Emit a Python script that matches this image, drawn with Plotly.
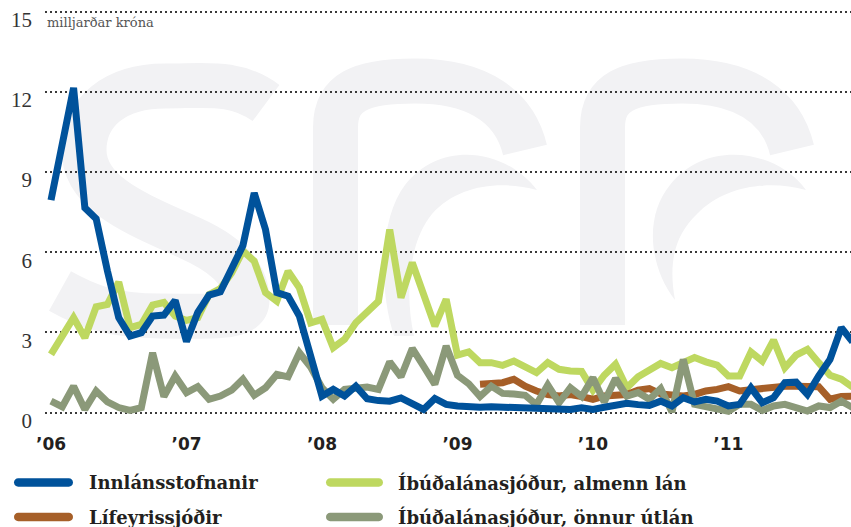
import plotly.graph_objects as go

# ---- data: monthly values, Jan 2006 (index 0) to Dec 2011 (index 71), billion ISK ----
month_index = list(range(72))
year_ticks = [0, 12, 24, 36, 48, 60]
year_labels = ["’06", "’07", "’08", "’09", "’10", "’11"]
value_ticks = [0, 3, 6, 9, 12, 15]
unit_label = "milljarðar króna"

innlansstofnanir = [
    7.95, 10.05, 12.15, 7.66, 7.25, 5.3, 3.55, 2.86, 2.99, 3.61, 3.65, 4.2,
    2.66, 3.75, 4.4, 4.52, 5.45, 6.25, 8.22, 6.85, 4.49, 4.36, 3.61, 2.2,
    0.62, 0.87, 0.62, 0.99, 0.52, 0.45, 0.43, 0.55, 0.3, 0.12, 0.53, 0.31,
    0.25, 0.2, 0.2, 0.22, 0.2, 0.22, 0.15, 0.12, 0.1, 0.1, 0.12, 0.18,
    0.12, 0.2, 0.25, 0.35, 0.3, 0.27, 0.43, 0.25, 0.56, 0.4, 0.5, 0.43,
    0.25, 0.31, 0.93, 0.37, 0.56, 1.12, 1.14, 0.68, 1.37, 1.99, 3.18, 2.65,
]
lifeyrissjodir = [None] * 38 + [
    1.06, 1.06, 1.12, 1.25, 0.99, 0.81, 0.68, 0.62, 0.68, 0.6,
    0.5, 0.62, 0.68, 0.68, 0.84, 0.9, 0.7, 0.68, 0.62, 0.68, 0.81, 0.87,
    0.97, 0.81, 0.87, 0.93, 0.97, 0.99, 0.99, 0.99, 0.97, 0.5, 0.6, 0.62,
]
ils_almenn = [
    2.18, 2.87, 3.55, 2.8, 3.96, 4.05, 4.88, 3.18, 3.3, 4.02, 4.12, 3.61,
    3.45, 3.55, 4.42, 4.64, 5.23, 6.05, 5.67, 4.49, 4.17, 5.29, 4.67, 3.36,
    3.49, 2.43, 2.74, 3.36, 3.74, 4.17, 6.85, 4.3, 5.61, 4.36, 3.24, 4.24,
    2.15, 2.27, 1.87, 1.87, 1.77, 1.93, 1.74, 1.5, 1.87, 1.62, 1.56, 1.54,
    0.84, 1.4, 1.81, 0.93, 1.34, 1.6, 1.84, 1.68, 1.87, 2.06, 1.9, 1.78,
    1.37, 1.37, 2.27, 1.93, 2.71, 1.68, 2.15, 2.37, 1.87, 1.4, 1.25, 0.95,
]
ils_onnur = [
    0.43, 0.22, 0.99, 0.12, 0.81, 0.4, 0.19, 0.08, 0.19, 2.24, 0.6, 1.37,
    0.75, 0.97, 0.5, 0.62, 0.84, 1.25, 0.65, 0.93, 1.43, 1.34, 2.24, 1.7,
    0.93, 0.5, 0.87, 0.93, 0.96, 0.87, 1.9, 1.34, 2.4, 1.74, 1.06, 2.49,
    1.4, 1.08, 0.6, 0.99, 0.72, 0.7, 0.65, 0.3, 1.03, 0.37, 0.93, 0.6,
    1.31, 0.4, 1.28, 0.62, 0.75, 0.5, 0.9, 0.02, 1.99, 0.31, 0.22, 0.19,
    0.05, 0.31, 0.31, 0.08, 0.25, 0.31, 0.19, 0.06, 0.25, 0.19, 0.43, 0.19,
]

series_names = [
    "Innlánsstofnanir",
    "Lífeyrissjóðir",
    "Íbúðalánasjóður, almenn lán",
    "Íbúðalánasjóður, önnur útlán",
]
series_values = [innlansstofnanir, lifeyrissjodir, ils_almenn, ils_onnur]
series_colors = ["#00529b", "#a65f28", "#bed860", "#8b9979"]
draw_order = [2, 1, 3, 0]  # lightest underneath, deposit institutions on top

# ---- layout geometry (pixels) ----
FIG_W, FIG_H = 851, 527
M_L, M_R, M_T, M_B = 45, 0, 5, 101
PLOT_W = FIG_W - M_L - M_R
PLOT_H = FIG_H - M_T - M_B
PLOT_BOTTOM = FIG_H - M_B


def to_paper(px, py):
    return (px - M_L) / PLOT_W, (PLOT_BOTTOM - py) / PLOT_H


def path_from_pixels(segments):
    parts = []
    for cmd, pts in segments:
        coords = []
        for px, py in pts:
            x, y = to_paper(px, py)
            coords.append(f"{x:.5f},{y:.5f}")
        parts.append(cmd + " " + " ".join(coords))
    return " ".join(parts)


def stadium(x0, x1, yc, r):
    k = 0.5523 * r
    return path_from_pixels([
        ("M", [(x0 + r, yc - r)]),
        ("L", [(x1 - r, yc - r)]),
        ("C", [(x1 - r + k, yc - r), (x1, yc - k), (x1, yc)]),
        ("C", [(x1, yc + k), (x1 - r + k, yc + r), (x1 - r, yc + r)]),
        ("L", [(x0 + r, yc + r)]),
        ("C", [(x0 + r - k, yc + r), (x0, yc + k), (x0, yc)]),
        ("C", [(x0, yc - k), (x0 + r - k, yc - r), (x0 + r, yc - r)]),
        ("Z", []),
    ])


fig = go.Figure()
for i in draw_order:
    fig.add_trace(go.Scatter(
        x=month_index,
        y=series_values[i],
        name=series_names[i],
        mode="lines",
        line=dict(color=series_colors[i], width=7),
        showlegend=False,
        connectgaps=False,
    ))

shapes = []

# faint "sff" logo behind the plot
WM = "#f2f2f4"
logo_strokes = [
    [("M", [(266, 103)]),
     ("C", [(235, 80), (205, 86), (165, 86)]),
     ("C", [(115, 86), (84, 112), (84, 150)]),
     ("C", [(84, 195), (140, 215), (190, 238)]),
     ("C", [(235, 258), (247, 280), (247, 300)]),
     ("C", [(247, 320), (210, 316), (160, 316)]),
     ("C", [(110, 316), (85, 305), (60, 291)])],
]
for dx in (0, 267):
    logo_strokes.append([
        ("M", [(335.5 + dx, 325)]),
        ("L", [(335.5 + dx, 128)]),
        ("C", [(335.5 + dx, 92), (360 + dx, 81), (415 + dx, 81)]),
        ("C", [(480 + dx, 81), (515 + dx, 108), (525 + dx, 150)]),
    ])
for stroke in logo_strokes:
    shapes.append(dict(type="path", xref="paper", yref="paper", layer="below",
                       path=path_from_pixels(stroke),
                       line=dict(color=WM, width=45),
                       fillcolor="rgba(0,0,0,0)"))
crescents = [
    [("M", [(537, 190)]),
     ("C", [(505, 148), (440, 140), (405, 185)]),
     ("C", [(380, 218), (378, 285), (394, 336)]),
     ("L", [(414, 336)]),
     ("C", [(404, 292), (410, 240), (432, 214)]),
     ("C", [(458, 185), (500, 180), (537, 190)]),
     ("Z", [])],
    [("M", [(806, 190)]),
     ("C", [(775, 148), (705, 140), (670, 185)]),
     ("C", [(645, 215), (648, 265), (675, 300)]),
     ("C", [(668, 262), (675, 235), (697, 214)]),
     ("C", [(725, 185), (770, 180), (806, 190)]),
     ("Z", [])],
]
for c in crescents:
    shapes.append(dict(type="path", xref="paper", yref="paper", layer="below",
                       path=path_from_pixels(c),
                       line=dict(color=WM, width=0), fillcolor=WM))

# legend: two columns, two rows, built from the series lists
legend_slots = [(0, 0), (1, 0), (0, 1), (1, 1)]  # (row, column) per series
col_x = [(14, 73, 87), (326, 383, 396)]
row_y = [482.5, 517]
annotations = []
for i, name in enumerate(series_names):
    row, col = legend_slots[i]
    sx0, sx1, tx = col_x[col]
    yc = row_y[row]
    shapes.append(dict(type="path", xref="paper", yref="paper",
                       path=stadium(sx0, sx1, yc, 4.2),
                       line=dict(width=0), fillcolor=series_colors[i]))
    ax, ay = to_paper(tx, yc)
    annotations.append(dict(text=name, xref="paper", yref="paper", x=ax, y=ay,
                            xanchor="left", yanchor="middle", showarrow=False,
                            font=dict(family="DejaVu Serif", size=18,
                                      color="#231f20", weight="bold")))

ux, uy = to_paper(45, 22)
annotations.append(dict(text=unit_label, xref="paper", yref="paper", x=ux, y=uy,
                        xanchor="left", yanchor="middle", showarrow=False,
                        font=dict(family="DejaVu Serif", size=13, color="#555555")))

px_per_month = 11.29
x_first = 51
x_lo = -(x_first - M_L) / px_per_month
x_hi = x_lo + PLOT_W / px_per_month

fig.update_layout(
    width=FIG_W, height=FIG_H,
    margin=dict(l=M_L, r=M_R, t=M_T, b=M_B, pad=0),
    paper_bgcolor="white", plot_bgcolor="white",
    shapes=shapes, annotations=annotations,
    showlegend=False,
    xaxis=dict(range=[x_lo, x_hi], tickmode="array", tickvals=year_ticks,
               ticktext=year_labels, showgrid=False, zeroline=False,
               showline=False, ticks="outside", ticklen=3,
               tickcolor="rgba(0,0,0,0)",
               tickfont=dict(family="DejaVu Sans", size=17, color="#231f20",
                             weight="bold")),
    yaxis=dict(range=[-0.5, 15.25], tickmode="array", tickvals=value_ticks,
               showgrid=True, gridcolor="#3a3a3a", gridwidth=2,
               griddash="2px,3px", zeroline=False, showline=False,
               ticks="", ticklabelstandoff=12, ticklabelshift=8,
               tickfont=dict(family="Liberation Serif", size=21, color="#333333")),
)

fig.write_html("out.html")
